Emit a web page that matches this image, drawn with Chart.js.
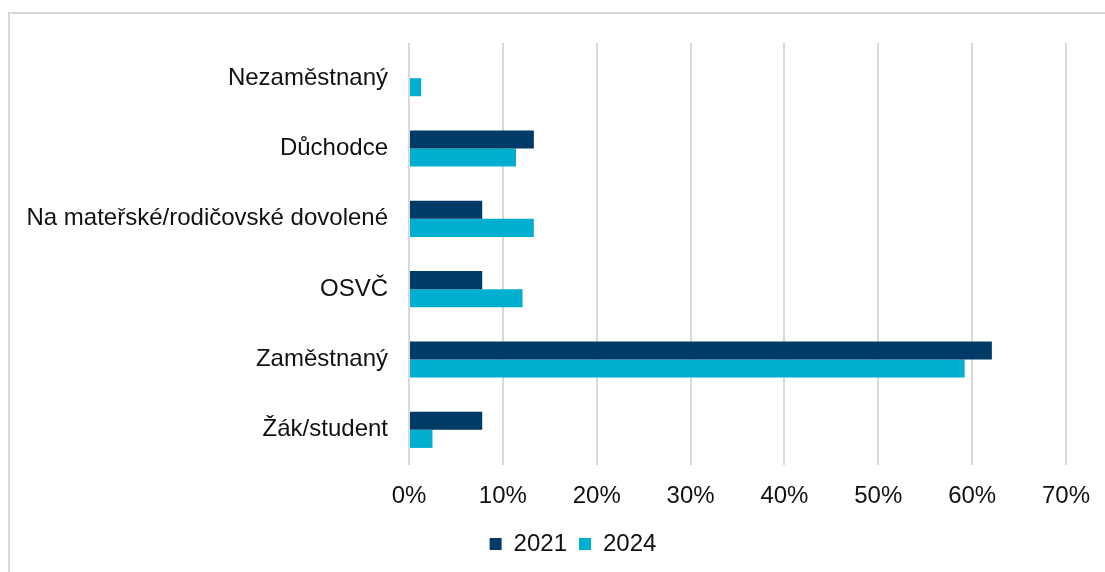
<!DOCTYPE html>
<html lang="cs">
<head>
<meta charset="UTF-8">
<title>Ekonomická aktivita</title>
<style>
  html, body { margin: 0; padding: 0; background: #fff; }
  .frame {
    position: absolute; left: 8px; top: 12px; right: -10px; bottom: -10px;
    border-top: 2px solid #d9d9d9; border-left: 2px solid #d9d9d9;
  }
  .wrap { position: absolute; left: 0; top: 0; width: 1105px; height: 572px; }
</style>
</head>
<body>
<div class="frame"></div>
<div class="wrap"><canvas id="chart"></canvas></div>

<script src="https://cdn.jsdelivr.net/npm/chart.js"></script>
<script>
  // kategorie (odshora dolů)
  const categories = ['Nezaměstnaný', 'Důchodce', 'Na mateřské/rodičovské dovolené', 'OSVČ', 'Zaměstnaný', 'Žák/student'];
  // hodnoty v %
  const values2021 = [null, 13.3, 7.8, 7.8, 62.1, 7.8];
  const values2024 = [1.3, 11.4, 13.3, 12.1, 59.2, 2.5];
  const seriesNames = ['2021', '2024'];
  const xTicks = [0, 10, 20, 30, 40, 50, 60, 70];

  const font = { family: 'Arial, "Liberation Sans", sans-serif', size: 24 };
  const textColor = '#111';

  // posun legendy (v originále není na středu plátna)
  const legendShift = {
    id: 'legendShift',
    afterLayout(chart) {
      const lg = chart.legend;
      if (!lg) return;
      lg.left += 40; lg.right += 40;
      lg.top += 5; lg.bottom += 5;
    }
  };

  const data = {
    labels: categories,
    datasets: [
      { label: seriesNames[0], data: values2021, backgroundColor: '#003A66' },
      { label: seriesNames[1], data: values2024, backgroundColor: '#00AECF' }
    ]
  };

  new Chart(document.getElementById('chart'), {
    type: 'bar',
    data: data,
    plugins: [legendShift],
    options: {
      indexAxis: 'y',
      responsive: true,
      maintainAspectRatio: false,
      animation: false,
      layout: { padding: { left: 0, right: 39, top: 43, bottom: 11 } },
      datasets: { bar: { barPercentage: 1, categoryPercentage: 0.514, borderWidth: 0 } },
      scales: {
        x: {
          min: 0, max: 70,
          afterBuildTicks: (s) => { s.ticks = xTicks.map(v => ({ value: v })); },
          ticks: { callback: (v) => v + '%', font: font, color: textColor, padding: 17, maxRotation: 0 },
          grid: { color: '#d9d9d9', lineWidth: 2, drawTicks: false },
          border: { display: false },
          afterFit: (s) => { s.height = 50; s.paddingRight = 0; s.paddingLeft = 0; }
        },
        y: {
          ticks: { font: font, color: textColor, padding: 21 },
          grid: { display: false, drawTicks: false },
          border: { display: false },
          afterFit: (s) => { s.width = 409; }
        }
      },
      plugins: {
        legend: {
          position: 'bottom',
          labels: { font: font, color: textColor, boxWidth: 12, boxHeight: 12, padding: 12 }
        },
        tooltip: { enabled: false }
      }
    }
  });
</script>
</body>
</html>
